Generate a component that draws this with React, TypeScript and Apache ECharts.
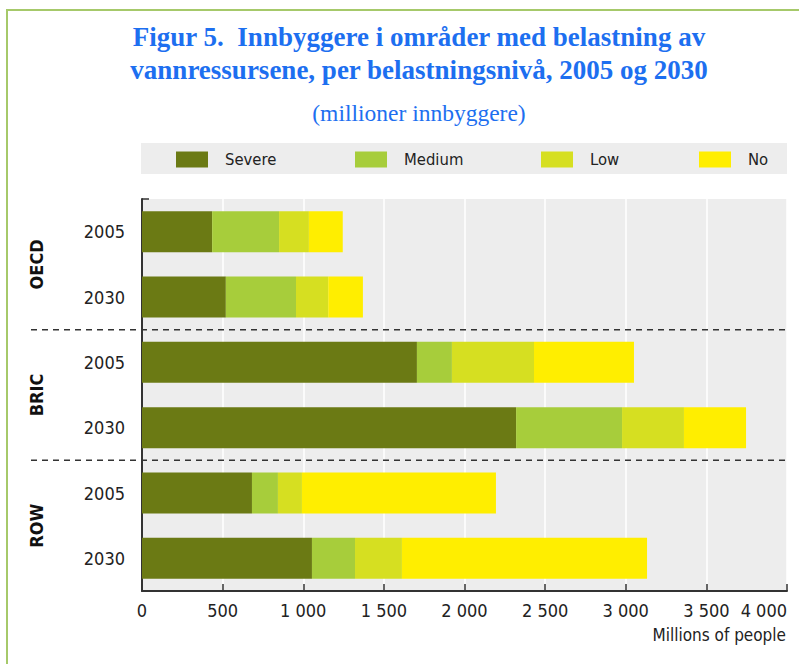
import React, { useEffect, useRef } from "react";
import * as echarts from "echarts";

const categories = ["OECD 2005", "OECD 2030", "BRIC 2005", "BRIC 2030", "ROW 2005", "ROW 2030"];
const groups = ["OECD", "BRIC", "ROW"];
const seriesNames = ["Severe", "Medium", "Low", "No"];
const severe = [435, 520, 1705, 2320, 682, 1054];
const medium = [415, 435, 217, 657, 161, 267];
const low = [185, 200, 509, 384, 149, 291];
const none = [210, 215, 620, 385, 1203, 1520];

const colors = ["#6b7a14", "#a7cd3b", "#d6df21", "#ffee00"];
const values = [severe, medium, low, none];
const legendLeft = [176, 355, 541, 699];

const titleLines = [
  "Figur 5.  Innbyggere i områder med belastning av",
  "vannressursene, per belastningsnivå, 2005 og 2030",
];
const subtitle = "(millioner innbyggere)";
const xName = "Millions of people";

const SANS = "'Liberation Sans Narrow', 'DejaVu Sans Condensed', sans-serif";
const SERIF = "'Liberation Serif', 'DejaVu Serif', serif";
const BLUE = "#1d6ff0";

const fmt = (v: number) => String(v).replace(/\B(?=(\d{3})+(?!\d))/g, " ");

export default function App() {
  const ref = useRef<HTMLDivElement>(null);
  useEffect(() => {
    if (!ref.current) return;
    const chart = echarts.init(ref.current, null, { renderer: "svg" });
    const gridLeft = 142;
    const gridRight = 12;
    const gridTop = 199;
    const gridBottom = 73;
    const option: any = {
      animation: false,
      backgroundColor: "#ffffff",
      grid: {
        left: gridLeft,
        right: gridRight,
        top: gridTop,
        bottom: gridBottom,
        show: true,
        backgroundColor: "#ededed",
        borderWidth: 0,
        containLabel: false,
      },
      legend: seriesNames.map((n, i) => ({
        data: [n],
        left: legendLeft[i],
        top: 151,
        padding: 0,
        itemWidth: 32,
        itemHeight: 16,
        icon: "rect",
        textStyle: { fontFamily: SANS, fontSize: 16.5, color: "#222", padding: [0, 0, 0, 12] },
        selectedMode: false,
      })),
      xAxis: {
        type: "value",
        min: 0,
        max: 4000,
        interval: 500,
        axisLine: { show: true, lineStyle: { color: "#333", width: 2 } },
        axisTick: { show: true, inside: true, length: 7, lineStyle: { color: "#333", width: 1.5 } },
        splitLine: { show: true, lineStyle: { color: "#ffffff", width: 1.5 } },
        axisLabel: {
          fontFamily: SANS,
          fontSize: 18,
          color: "#222",
          margin: 10,
          alignMaxLabel: "right",
          formatter: (v: number) => fmt(v),
        },
        name: xName,
        nameLocation: "end",
        nameGap: -1,
        nameTextStyle: {
          fontFamily: SANS,
          fontSize: 17,
          color: "#222",
          align: "right",
          verticalAlign: "top",
          padding: [35, 0, 0, 0],
        },
      },
      yAxis: [
        {
          type: "category",
          data: categories,
          inverse: true,
          axisLine: { show: true, lineStyle: { color: "#333", width: 2 } },
          axisTick: { show: false },
          axisLabel: {
            fontFamily: SANS,
            fontSize: 18,
            color: "#222",
            margin: 17,
            formatter: (v: string) => v.split(" ")[1],
          },
        },
        {
          type: "category",
          data: groups,
          inverse: true,
          position: "left",
          offset: 97,
          axisLine: { show: false },
          axisTick: { show: false },
          axisLabel: {
            rotate: 90,
            fontFamily: SANS,
            fontSize: 18,
            fontWeight: "bold",
            color: "#111",
            margin: 0,
          },
        },
      ],
      series: seriesNames.map((n, i) => ({
        name: n,
        type: "bar",
        stack: "total",
        yAxisIndex: 0,
        barWidth: 41,
        itemStyle: { color: colors[i] },
        data: values[i],
      })),
    };
    chart.setOption(option);

    const yc = categories.map((c) => chart.convertToPixel({ yAxisIndex: 0 }, c) as number);
    const b1 = (yc[1] + yc[2]) / 2;
    const b2 = (yc[3] + yc[4]) / 2;
    const xEnd = chart.convertToPixel({ xAxisIndex: 0 }, 4000) as number;
    const x0 = chart.convertToPixel({ xAxisIndex: 0 }, 0) as number;

    const graphic: any[] = [
      {
        type: "rect",
        shape: { x: 7, y: 10, width: 900, height: 800 },
        style: { fill: "none", stroke: "#a6c96a", lineWidth: 2 },
        silent: true,
        z: -10,
      },
      {
        type: "rect",
        shape: { x: x0 - 1, y: 143, width: xEnd - x0 + 1, height: 31 },
        style: { fill: "#ededed" },
        silent: true,
        z: -5,
      },
      ...titleLines.map((t, i) => ({
        type: "text",
        x: 419,
        y: 37 + i * 33,
        style: {
          text: t,
          fill: BLUE,
          font: `bold 27px ${SERIF}`,
          textAlign: "center",
          textVerticalAlign: "middle",
        },
      })),
      {
        type: "text",
        x: 419,
        y: 113,
        style: {
          text: subtitle,
          fill: BLUE,
          font: `23.5px ${SERIF}`,
          textAlign: "center",
          textVerticalAlign: "middle",
        },
      },
      ...[b1, b2].map((y) => ({
        type: "line",
        shape: { x1: 31, y1: y, x2: xEnd, y2: y },
        style: { stroke: "#333", lineWidth: 1.5, lineDash: [6, 5] },
        silent: true,
        z: 10,
      })),
      {
        type: "line",
        shape: { x1: x0, y1: gridTop, x2: x0 + 7, y2: gridTop },
        style: { stroke: "#333", lineWidth: 1.5 },
        silent: true,
        z: 10,
      },
    ];
    chart.setOption({ graphic });

    return () => chart.dispose();
  }, []);
  return (
    <div
      ref={ref}
      style={{ position: "fixed", left: 0, top: 0, width: 799, height: 664 }}
    />
  );
}
